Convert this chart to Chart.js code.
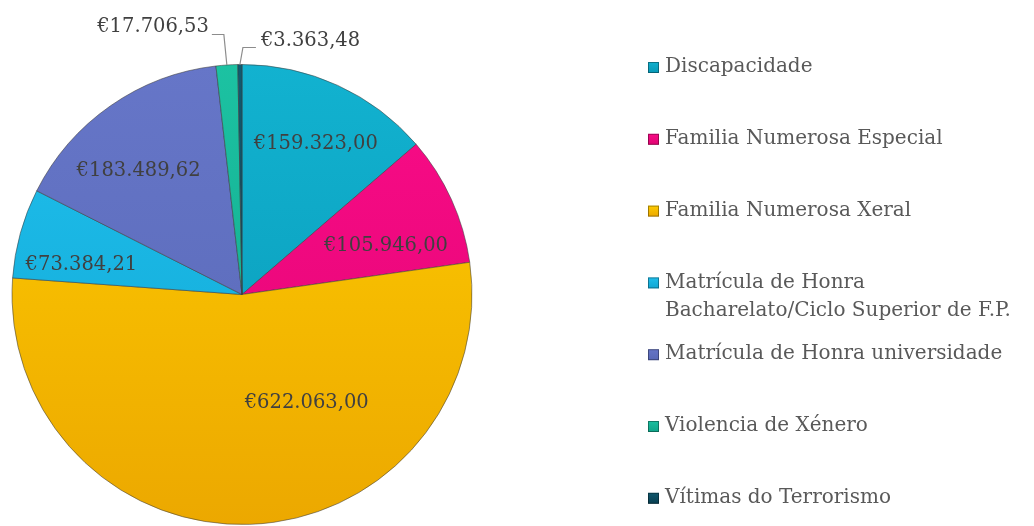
<!DOCTYPE html>
<html><head><meta charset="utf-8">
<script src="https://cdn.jsdelivr.net/npm/chart.js@4.4.0/dist/chart.umd.min.js"></script>
<style>
html,body{margin:0;padding:0;background:#fff;overflow:hidden;}
#wrap{position:relative;width:1034px;height:526px;}
</style></head>
<body><div id="wrap"><canvas id="c" width="1034" height="526"></canvas></div>
<script>
const categories = ["Discapacidade","Familia Numerosa Especial","Familia Numerosa Xeral","Matrícula de Honra Bacharelato/Ciclo Superior de F.P.","Matrícula de Honra universidade","Violencia de Xénero","Vítimas do Terrorismo"];
const legendLines = [["Discapacidade"],["Familia Numerosa Especial"],["Familia Numerosa Xeral"],["Matrícula de Honra","Bacharelato/Ciclo Superior de F.P."],["Matrícula de Honra universidade"],["Violencia de Xénero"],["Vítimas do Terrorismo"]];
const values = [159323.00,105946.00,622063.00,73384.21,183489.62,17706.53,3363.48];
const valueLabels = ["€159.323,00","€105.946,00","€622.063,00","€73.384,21","€183.489,62","€17.706,53","€3.363,48"];
const topColors = ["#12B2D0","#FA0C88","#FFCE00","#20C0EE","#6676C8","#1CC2A2","#105A70"];
const bottomColors = ["#0898B6","#E00472","#ECA800","#10A6D2","#5868B6","#10A488","#083E50"];

// label placement (fraction along slice angle, fraction of radius); null => outside with leader
const labelPlace = [[0.53,0.73],[0.68,0.66],[0.35,0.55],[0.28,0.71],[0.41,0.70],null,null];

const FONT = "'DejaVu Serif', serif";

const labelPlugin = {
  id:'labels',
  afterDatasetsDraw(chart){
    const ctx = chart.ctx;
    const meta = chart.getDatasetMeta(0);
    ctx.save();
    ctx.font = "19.5px " + FONT;
    ctx.fillStyle = "#404040";
    ctx.textBaseline = "middle";
    meta.data.forEach((arc,i)=>{
      const p = arc.getProps(['x','y','startAngle','endAngle','outerRadius'],true);
      if(labelPlace[i]){
        const a = p.startAngle + (p.endAngle-p.startAngle)*labelPlace[i][0];
        const r = p.outerRadius*labelPlace[i][1];
        ctx.textAlign='center';
        ctx.fillText(valueLabels[i], p.x+Math.cos(a)*r, p.y+Math.sin(a)*r);
      } else {
        const a = (p.startAngle+p.endAngle)/2;
        const ex = p.x+Math.cos(a)*p.outerRadius, ey = p.y+Math.sin(a)*p.outerRadius;
        ctx.strokeStyle="#8c8c8c"; ctx.lineWidth=1.2;
        ctx.beginPath();
        if(i===5){
          const ky = p.y - p.outerRadius - 30;
          ctx.moveTo(ex,ey); ctx.lineTo(ex-3,ky); ctx.lineTo(ex-15,ky); ctx.stroke();
          ctx.textAlign='right';
          ctx.fillText(valueLabels[i], ex-18, ky-8);
        } else {
          const ky = p.y - p.outerRadius - 17;
          ctx.moveTo(ex,ey); ctx.lineTo(ex+3,ky); ctx.lineTo(ex+16,ky); ctx.stroke();
          ctx.textAlign='left';
          ctx.fillText(valueLabels[i], ex+21, ky-7);
        }
      }
    });
    // legend
    const lx = 648, ty = 67, step = 71.8;
    legendLines.forEach((lines,i)=>{
      const y = ty + i*step;
      const g = ctx.createLinearGradient(0,y-6,0,y+6);
      g.addColorStop(0,topColors[i]); g.addColorStop(1,bottomColors[i]);
      ctx.fillStyle=g;
      ctx.fillRect(lx,y-5,11,11);
      ctx.strokeStyle="rgba(0,0,0,0.35)"; ctx.lineWidth=1;
      ctx.strokeRect(lx+0.5,y-4.5,10,10);
      ctx.fillStyle="#595959";
      ctx.textAlign='left';
      ctx.font = "20px " + FONT;
      lines.forEach((t,k)=>ctx.fillText(t, 665, y+k*28));
    });
    ctx.restore();
  }
};

new Chart(document.getElementById('c'),{
  type:'pie',
  data:{labels:categories,datasets:[{data:values,
    backgroundColor:(c)=>{
      const ch=c.chart; const ca=ch.chartArea; if(!ca) return topColors[c.dataIndex];
      const g=ch.ctx.createLinearGradient(0,ca.top,0,ca.bottom);
      g.addColorStop(0,topColors[c.dataIndex]); g.addColorStop(1,bottomColors[c.dataIndex]);
      return g;
    },
    borderColor:"rgba(60,60,60,0.55)",borderWidth:1}]},
  options:{responsive:false,animation:false,
    layout:{padding:{left:11,right:561,top:64,bottom:1}},
    plugins:{legend:{display:false},tooltip:{enabled:false}}},
  plugins:[labelPlugin]
});
</script></body></html>
